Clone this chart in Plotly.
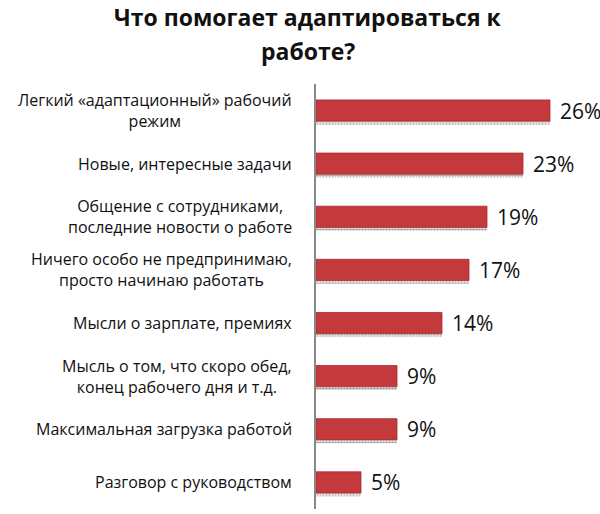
import plotly.graph_objects as go

categories = [
    "Легкий «адаптационный» рабочий<br>режим",
    "Новые, интересные задачи",
    "Общение с сотрудниками,<br>последние новости о работе",
    "Ничего особо не предпринимаю,<br>просто начинаю работать",
    "Мысли о зарплате, премиях",
    "Мысль о том, что скоро обед,<br>конец рабочего дня и т.д.",
    "Максимальная загрузка работой",
    "Разговор с руководством",
]
values = [26, 23, 19, 17, 14, 9, 9, 5]
value_labels = ["26%", "23%", "19%", "17%", "14%", "9%", "9%", "5%"]
title_lines = ["Что помогает адаптироваться к", "работе?"]

FONT = "Open Sans, Liberation Sans, DejaVu Sans, sans-serif"

fig = go.Figure()
# dotted shadow under bars
fig.add_trace(go.Bar(
    y=categories, x=values, orientation="h",
    width=0.05, offset=0.21,
    marker=dict(color="white", line=dict(width=0),
                pattern=dict(shape=".", fgcolor="#444444", bgcolor="white", size=3, solidity=0.6)),
    hoverinfo="skip", showlegend=False,
))
fig.add_trace(go.Bar(
    y=categories, x=values, orientation="h",
    width=0.4, offset=-0.2,
    marker=dict(color="#c43a3c", line=dict(color="#a52a2e", width=0.8)),
    showlegend=False,
))

for c, v, t in zip(categories, values, value_labels):
    fig.add_annotation(
        x=0, xref="paper", y=c, yref="y", xanchor="right", xshift=-22,
        text=c, showarrow=False, align="center",
        font=dict(size=16, color="#111111", family=FONT),
    )
    fig.add_annotation(
        x=v, xref="x", y=c, yref="y", xanchor="left", xshift=8,
        text=t, showarrow=False,
        font=dict(size=21, color="#111111", family=FONT),
    )

for line, shift in zip(title_lines, [85, 51]):
    fig.add_annotation(
        x=-0.03, xref="paper", xanchor="center", y=1, yref="paper", yanchor="top", yshift=shift,
        text="<b>" + line + "</b>",
        showarrow=False, align="center",
        font=dict(size=23, color="#111111", family=FONT),
    )

fig.update_layout(
    width=600, height=514,
    margin=dict(l=316, r=14, t=84, b=5, autoexpand=False),
    paper_bgcolor="white", plot_bgcolor="white",
    barmode="overlay",
    xaxis=dict(range=[0, 30], visible=False, showgrid=False, zeroline=False),
    yaxis=dict(autorange="reversed", showticklabels=False, showgrid=False,
               showline=True, linecolor="#888888", linewidth=1.5, ticks=""),
)

fig.write_html(
    "out.html",
    config={"displayModeBar": False},
    post_script="document.body.style.margin='0';document.body.style.overflow='hidden';",
)
